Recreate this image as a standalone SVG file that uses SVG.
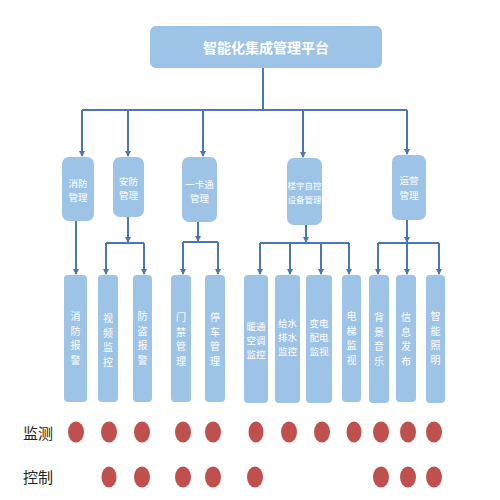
<svg xmlns="http://www.w3.org/2000/svg" width="500" height="500" viewBox="0 0 500 500">
<defs>
<style>
.box{fill:#9dc3e6;}
.t{font-family:"Noto Sans CJK SC","Noto Sans",sans-serif;fill:#ffffff;text-anchor:middle;dominant-baseline:central;}
.t1{font-size:14px;font-weight:bold;}
.t2{font-size:9.5px;}
.t2s{font-size:8.5px;}
.t3{font-size:10px;}
.t3s{font-size:9.5px;}
.ln{fill:none;stroke:#4a76b3;stroke-width:2;}
.ar{fill:none;stroke:#4a76b3;stroke-width:2;marker-end:url(#ah);}
.dot{fill:#c0504d;}
.lab{font-family:"Noto Sans CJK SC","Noto Sans",sans-serif;font-size:15px;fill:#222;dominant-baseline:central;}
</style>
<marker id="ah" markerWidth="6" markerHeight="6" refX="5" refY="3" orient="auto" markerUnits="userSpaceOnUse">
<path d="M0,0 L6,3 L0,6 Z" fill="#4a76b3"/>
</marker>
</defs>
<rect width="500" height="500" fill="#ffffff"/>

<g id="connectors">
<path class="ln" d="M263,68 V110 M82,110 H407"/>
<path class="ar" d="M82,110 V156"/>
<path class="ar" d="M128,110 V156"/>
<path class="ar" d="M203,110 V156"/>
<path class="ar" d="M303,110 V157"/>
<path class="ar" d="M407,110 V154"/>
<path class="ar" d="M76,221 V274"/>
<path class="ar" d="M128,217 V242"/>
<path class="ln" d="M106,243 H144"/>
<path class="ar" d="M106,243 V274"/>
<path class="ar" d="M144,243 V274"/>
<path class="ar" d="M198,222 V241"/>
<path class="ln" d="M183,242 H218"/>
<path class="ar" d="M183,242 V274"/>
<path class="ar" d="M218,242 V274"/>
<path class="ar" d="M306,225 V242"/>
<path class="ln" d="M260,243 H349"/>
<path class="ar" d="M260,243 V274"/>
<path class="ar" d="M290,243 V274"/>
<path class="ar" d="M321,243 V274"/>
<path class="ar" d="M349,243 V274"/>
<path class="ar" d="M407,220 V242"/>
<path class="ln" d="M378,243 H439"/>
<path class="ar" d="M378,243 V274"/>
<path class="ar" d="M407,243 V274"/>
<path class="ar" d="M439,243 V274"/>
</g>

<g id="platform">
<rect class="box" x="150" y="26" width="232" height="42" rx="6"/>
<text class="t t1" x="266" y="47">智能化集成管理平台</text>
</g>

<g id="xiaofang">
<rect class="box" x="62" y="157" width="32" height="64" rx="7"/>
<text class="t t2" x="78" y="183">消防</text>
<text class="t t2" x="78" y="197">管理</text>
</g>
<g id="anfang">
<rect class="box" x="113" y="157" width="31" height="60" rx="7"/>
<text class="t t2" x="128.5" y="181">安防</text>
<text class="t t2" x="128.5" y="195">管理</text>
</g>
<g id="yikatong">
<rect class="box" x="182" y="157" width="35" height="65" rx="7"/>
<text class="t t2" x="199.5" y="184">一卡通</text>
<text class="t t2" x="199.5" y="198">管理</text>
</g>
<g id="louyu">
<rect class="box" x="287" y="158" width="35" height="67" rx="7"/>
<text class="t t2s" x="304.5" y="185">楼宇自控</text>
<text class="t t2s" x="304.5" y="199">设备管理</text>
</g>
<g id="yunying">
<rect class="box" x="392" y="155" width="34" height="65" rx="7"/>
<text class="t t2" x="409" y="180">运营</text>
<text class="t t2" x="409" y="195">管理</text>
</g>

<g id="xfbj">
<rect class="box" x="64" y="275" width="23" height="127" rx="4"/>
<text class="t t3" x="75.5"><tspan x="75.5" y="315">消</tspan><tspan x="75.5" y="329.5">防</tspan><tspan x="75.5" y="344">报</tspan><tspan x="75.5" y="358.5">警</tspan></text>
</g>
<g id="spjk">
<rect class="box" x="98" y="275" width="20" height="127" rx="4"/>
<text class="t t3" x="108"><tspan x="108" y="317">视</tspan><tspan x="108" y="331.5">频</tspan><tspan x="108" y="346">监</tspan><tspan x="108" y="360.5">控</tspan></text>
</g>
<g id="fdbj">
<rect class="box" x="133" y="275" width="19" height="127" rx="4"/>
<text class="t t3" x="142.5"><tspan x="142.5" y="315">防</tspan><tspan x="142.5" y="329.5">盗</tspan><tspan x="142.5" y="344">报</tspan><tspan x="142.5" y="358.5">警</tspan></text>
</g>
<g id="mjgl">
<rect class="box" x="171" y="275" width="20" height="127" rx="4"/>
<text class="t t3" x="181"><tspan x="181" y="316">门</tspan><tspan x="181" y="330.5">禁</tspan><tspan x="181" y="345">管</tspan><tspan x="181" y="359.5">理</tspan></text>
</g>
<g id="tcgl">
<rect class="box" x="205" y="275" width="20" height="127" rx="4"/>
<text class="t t3" x="215"><tspan x="215" y="316">停</tspan><tspan x="215" y="330.5">车</tspan><tspan x="215" y="345">管</tspan><tspan x="215" y="359.5">理</tspan></text>
</g>
<g id="ntkt">
<rect class="box" x="244" y="275" width="24" height="128" rx="4"/>
<text class="t t3s" x="256"><tspan x="256" y="326">暖通</tspan><tspan x="256" y="340">空调</tspan><tspan x="256" y="354">监控</tspan></text>
</g>
<g id="gspsjk">
<rect class="box" x="275" y="275" width="25" height="128" rx="4"/>
<text class="t t3s" x="287.5"><tspan x="287.5" y="323">给水</tspan><tspan x="287.5" y="337">排水</tspan><tspan x="287.5" y="351">监控</tspan></text>
</g>
<g id="bdpdjs">
<rect class="box" x="306" y="275" width="26" height="128" rx="4"/>
<text class="t t3s" x="319"><tspan x="319" y="323">变电</tspan><tspan x="319" y="337">配电</tspan><tspan x="319" y="351">监视</tspan></text>
</g>
<g id="dtjs">
<rect class="box" x="342" y="275" width="19" height="127" rx="4"/>
<text class="t t3" x="351.5"><tspan x="351.5" y="315">电</tspan><tspan x="351.5" y="329.5">梯</tspan><tspan x="351.5" y="344">监</tspan><tspan x="351.5" y="358.5">视</tspan></text>
</g>
<g id="bjyy">
<rect class="box" x="369" y="275" width="20" height="128" rx="4"/>
<text class="t t3" x="379"><tspan x="379" y="316">背</tspan><tspan x="379" y="330.5">景</tspan><tspan x="379" y="345">音</tspan><tspan x="379" y="359.5">乐</tspan></text>
</g>
<g id="xxfb">
<rect class="box" x="396" y="275" width="20" height="127" rx="4"/>
<text class="t t3" x="406"><tspan x="406" y="316">信</tspan><tspan x="406" y="330.5">息</tspan><tspan x="406" y="345">发</tspan><tspan x="406" y="359.5">布</tspan></text>
</g>
<g id="znzm">
<rect class="box" x="426" y="275" width="19" height="128" rx="4"/>
<text class="t t3" x="435.5"><tspan x="435.5" y="315">智</tspan><tspan x="435.5" y="329.5">能</tspan><tspan x="435.5" y="344">照</tspan><tspan x="435.5" y="358.5">明</tspan></text>
</g>

<g id="legend">
<text class="lab" x="23" y="432">监测</text>
<text class="lab" x="23" y="476">控制</text>
</g>
<g id="dots-monitor">
<ellipse class="dot" cx="76" cy="432" rx="8" ry="10.5"/>
<ellipse class="dot" cx="109" cy="432" rx="8" ry="10.5"/>
<ellipse class="dot" cx="142" cy="432" rx="8" ry="10.5"/>
<ellipse class="dot" cx="183" cy="432" rx="8" ry="10.5"/>
<ellipse class="dot" cx="213" cy="432" rx="8" ry="10.5"/>
<ellipse class="dot" cx="256" cy="432" rx="7.5" ry="10.5"/>
<ellipse class="dot" cx="289" cy="432" rx="8" ry="10.5"/>
<ellipse class="dot" cx="322" cy="432" rx="8" ry="10.5"/>
<ellipse class="dot" cx="354" cy="432" rx="7.5" ry="10.5"/>
<ellipse class="dot" cx="381" cy="432" rx="8" ry="10.5"/>
<ellipse class="dot" cx="408" cy="432" rx="8" ry="10.5"/>
<ellipse class="dot" cx="434" cy="432" rx="8" ry="10.5"/>
</g>
<g id="dots-control">
<ellipse class="dot" cx="109" cy="477" rx="7.5" ry="10.5"/>
<ellipse class="dot" cx="142" cy="477" rx="8" ry="10.5"/>
<ellipse class="dot" cx="183" cy="477" rx="8" ry="10.5"/>
<ellipse class="dot" cx="213" cy="477" rx="8" ry="10.5"/>
<ellipse class="dot" cx="255" cy="477" rx="8" ry="10.5"/>
<ellipse class="dot" cx="381" cy="477" rx="8" ry="10.5"/>
<ellipse class="dot" cx="408" cy="477" rx="8" ry="10.5"/>
<ellipse class="dot" cx="434" cy="477" rx="8" ry="10.5"/>
</g>
</svg>
